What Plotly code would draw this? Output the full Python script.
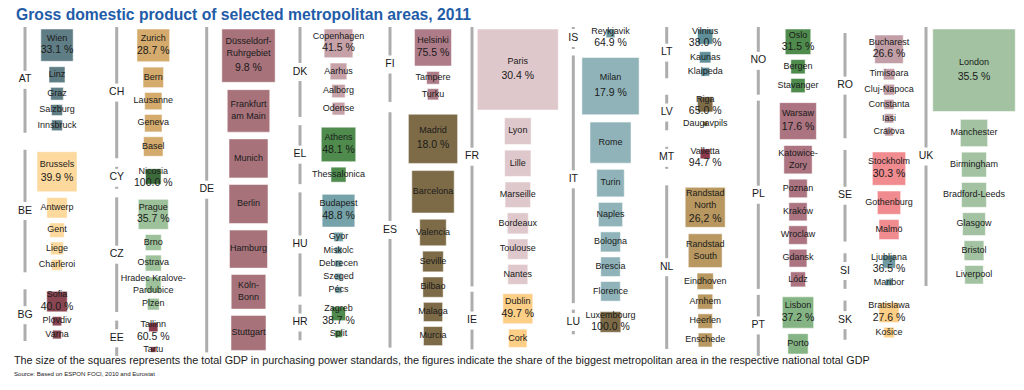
import math
import plotly.graph_objects as go

# ---------------- data ----------------
# GDP in bn PPS (estimated from the square areas)
COUNTRY_CODES = ["AT", "BE", "BG", "CH", "CY", "CZ", "EE", "DE", "DK", "EL", "HU", "HR",
                 "FI", "ES", "FR", "IE", "IS", "IT", "LU", "LT", "LV", "MT", "NL",
                 "NO", "PL", "PT", "RO", "SE", "SI", "SK", "UK"]
# share of the biggest metropolitan area in the national GDP (%)
TOP_SHARE = [33.1, 39.9, 40.0, 28.7, 100.0, 35.7, 60.5, 9.8, 41.5, 48.1, 48.8, 38.7,
             75.5, 18.0, 30.4, 49.7, 64.9, 17.9, 100.0, 38.0, 65.0, 94.7, 26.2,
             31.5, 17.6, 37.2, 26.6, 30.3, 36.5, 27.6, 35.5]
COMMA_DECIMAL = ["NL"]

CITIES_AT = ["Wien", "Linz", "Graz", "Salzburg", "Innsbruck"]
GDP_AT = [73.0, 17.9, 11.3, 8.5, 8.2]
CITIES_BE = ["Brussels", "Antwerp", "Gent", "Liege", "Charleroi"]
GDP_BE = [112.0, 29.1, 14.7, 11.5, 8.5]
CITIES_BG = ["Sofia", "Plovdiv", "Varna"]
GDP_BG = [29.4, 6.1, 5.3]
CITIES_CH = ["Zurich", "Bern", "Lausanne", "Geneva", "Basel"]
GDP_CH = [74.8, 29.4, 20.9, 21.4, 26.6]
CITIES_CY = ["Nicosia"]
GDP_CY = [16.8]
CITIES_CZ = ["Prague", "Brno", "Ostrava", "Hradec Kralove-\nPardubice", "Plzen"]
GDP_CZ = [63.0, 17.9, 17.9, 16.8, 9.6]
CITIES_EE = ["Tallinn", "Tartu"]
GDP_EE = [5.9, 2.1]
CITIES_DE = ["Düsseldorf-\nRuhrgebiet", "Frankfurt\nam Main", "Munich", "Berlin", "Hamburg",
             "Köln-\nBonn", "Stuttgart"]
GDP_DE = [198.9, 126.4, 106.5, 106.5, 101.1, 83.8, 85.8]
CITIES_DK = ["Copenhagen", "Aarhus", "Aalborg", "Odense"]
GDP_DK = [57.7, 19.5, 12.4, 11.3]
CITIES_EL = ["Athens", "Thessalonica"]
GDP_EL = [83.3, 15.8]
CITIES_HU = ["Budapest", "Gyor", "Miskolc", "Debrecen", "Szeged", "Pécs"]
GDP_HU = [74.8, 6.1, 3.4, 3.4, 3.4, 3.1]
CITIES_HR = ["Zagreb", "Split"]
GDP_HR = [13.7, 3.7]
CITIES_FI = ["Helsinki", "Tampere", "Turku"]
GDP_FI = [95.8, 11.3, 8.9]
CITIES_ES = ["Madrid", "Barcelona", "Valencia", "Seville", "Bilbao", "Malaga", "Murcia"]
GDP_ES = [169.5, 125.8, 49.2, 30.0, 28.8, 25.8, 25.3]
CITIES_FR = ["Paris", "Lyon", "Lille", "Marseille", "Bordeaux", "Toulouse", "Nantes"]
GDP_FR = [459.3, 49.9, 48.4, 45.5, 30.9, 28.8, 28.0]
CITIES_IE = ["Dublin", "Cork"]
GDP_IE = [63.0, 23.4]
CITIES_IS = ["Reykjavik"]
GDP_IS = [5.3]
CITIES_IT = ["Milan", "Rome", "Turin", "Naples", "Bologna", "Brescia", "Florence"]
GDP_IT = [229.0, 117.7, 52.9, 41.0, 28.0, 26.6, 26.9]
CITIES_LU = ["Luxembourg"]
GDP_LU = [30.0]
CITIES_LT = ["Vilnius", "Kaunas", "Klaipeda"]
GDP_LT = [16.2, 8.9, 5.3]
CITIES_LV = ["Riga", "Daugavpils"]
GDP_LV = [16.2, 1.4]
CITIES_MT = ["Valletta"]
GDP_MT = [7.0]
CITIES_NL = ["Randstad\nNorth", "Randstad\nSouth", "Eindhoven", "Arnhem", "Heerlen", "Enschede"]
GDP_NL = [112.0, 80.0, 18.6, 15.8, 14.7, 13.7]
CITIES_NO = ["Oslo", "Bergen", "Stavanger"]
GDP_NO = [45.5, 14.3, 14.1]
CITIES_PL = ["Warsaw", "Katowice-\nZory", "Poznan", "Kraków", "Wroclaw", "Gdansk", "Lódz"]
GDP_PL = [94.8, 56.1, 24.0, 23.2, 24.0, 22.2, 15.8]
CITIES_PT = ["Lisbon", "Porto"]
GDP_PT = [68.6, 28.8]
CITIES_RO = ["Bucharest", "Timisoara", "Cluj-Napoca", "Constanta", "Iasi", "Craiova"]
GDP_RO = [56.9, 8.9, 8.2, 7.0, 6.1, 5.1]
CITIES_SE = ["Stockholm", "Gothenburg", "Malmö"]
GDP_SE = [77.6, 38.0, 28.0]
CITIES_SI = ["Ljubljana", "Maribor"]
GDP_SI = [11.8, 3.1]
CITIES_SK = ["Bratislawa", "Košice"]
GDP_SK = [28.0, 7.7]
CITIES_UK = ["London", "Manchester", "Birmingham", "Bradford-Leeds", "Glasgow", "Bristol", "Liverpool"]
GDP_UK = [476.4, 51.8, 43.1, 43.1, 36.4, 27.4, 24.0]

TITLE = "Gross domestic product of selected metropolitan areas, 2011"
NOTE = ("The size of the squares represents the total GDP in purchasing power standards, "
        "the figures indicate the share of the biggest metropolitan area in the respective national total GDP")
SOURCE = "Source: Based on ESPON FOCI, 2010 and Eurostat"

CITIES = {
    "AT": (CITIES_AT, GDP_AT), "BE": (CITIES_BE, GDP_BE), "BG": (CITIES_BG, GDP_BG),
    "CH": (CITIES_CH, GDP_CH), "CY": (CITIES_CY, GDP_CY), "CZ": (CITIES_CZ, GDP_CZ),
    "EE": (CITIES_EE, GDP_EE), "DE": (CITIES_DE, GDP_DE), "DK": (CITIES_DK, GDP_DK),
    "EL": (CITIES_EL, GDP_EL), "HU": (CITIES_HU, GDP_HU), "HR": (CITIES_HR, GDP_HR),
    "FI": (CITIES_FI, GDP_FI), "ES": (CITIES_ES, GDP_ES), "FR": (CITIES_FR, GDP_FR),
    "IE": (CITIES_IE, GDP_IE), "IS": (CITIES_IS, GDP_IS), "IT": (CITIES_IT, GDP_IT),
    "LU": (CITIES_LU, GDP_LU), "LT": (CITIES_LT, GDP_LT), "LV": (CITIES_LV, GDP_LV),
    "MT": (CITIES_MT, GDP_MT), "NL": (CITIES_NL, GDP_NL), "NO": (CITIES_NO, GDP_NO),
    "PL": (CITIES_PL, GDP_PL), "PT": (CITIES_PT, GDP_PT), "RO": (CITIES_RO, GDP_RO),
    "SE": (CITIES_SE, GDP_SE), "SI": (CITIES_SI, GDP_SI), "SK": (CITIES_SK, GDP_SK),
    "UK": (CITIES_UK, GDP_UK),
}
SHARE = dict(zip(COUNTRY_CODES, TOP_SHARE))

# ---------------- styles / layout ----------------
COLORS = {
    "AT": "#5f7d84", "BE": "#fdd99d", "BG": "#8a4652", "CH": "#d4ab6c", "CY": "#3b6b3a",
    "CZ": "#9dc29b", "EE": "#8a3a4a", "DE": "#a7727a", "DK": "#c6a2a8", "EL": "#4f8b4d",
    "HU": "#76a3a9", "HR": "#4f8b4d", "FI": "#ad7c88", "ES": "#7d6b47", "FR": "#dfc8cb",
    "IE": "#fdcf86", "IS": "#6b959d", "IT": "#8fb3b8", "LU": "#7d6b47", "LT": "#5f8f99",
    "LV": "#7d6b47", "MT": "#8a3a4a", "NL": "#b89860", "NO": "#4f8b4d", "PL": "#ab7480",
    "PT": "#84b483", "RO": "#c29fa7", "SE": "#f08b8f", "SI": "#6f9aa2", "SK": "#fdcf86",
    "UK": "#a2c2a1",
}
COLUMN_GROUPS = [["AT", "BE", "BG"], ["CH", "CY", "CZ", "EE"], ["DE"], ["DK", "EL", "HU", "HR"],
                 ["FI", "ES"], ["FR", "IE"], ["IS", "IT", "LU"], ["LT", "LV", "MT", "NL"],
                 ["NO", "PL", "PT"], ["RO", "SE", "SI", "SK"], ["UK"]]
COLUMN_BAR_X = [25, 116.7, 206.7, 300, 390, 472, 573.3, 666.7, 758.3, 845, 926]
COLUMN_CENTER_X = [57, 153.3, 248.5, 338.5, 433, 517.8, 610.5, 705.2, 798, 889, 974]
COLUMN_COUNTRY_GAP = [21, 13, 0, 12.2, 14.3, 9.3, 10.5, 20.5, 10, 15.7, 0]
COLUMN_TOP = [29, 29, 29, 29, 29, 29, 29, 29, 29, 35, 29]
MAX_BOTTOM = 354
NAME_LINE = 9
TOP_LABEL_MIN = 18
GDP_PER_PX2 = 0.07
FONT = "Liberation Sans, Arial, Helvetica, sans-serif"
TXT = "#1a1a1a"


def side(g):
    return math.sqrt(g / GDP_PER_PX2)


def fmt_share(code, v):
    s = f"{v:.1f} %"
    return s.replace(".", ",") if code in COMMA_DECIMAL else s


fig = go.Figure()
sep_x, sep_y = [], []
lab_x, lab_y, lab_t = [], [], []
nm_x, nm_y, nm_t = [], [], []
pc_x, pc_y, pc_t = [], [], []

for ci, codes in enumerate(COLUMN_GROUPS):
    cx = COLUMN_CENTER_X[ci]
    bx = COLUMN_BAR_X[ci]
    entries = []
    for k, code in enumerate(codes):
        names, gdps = CITIES[code]
        prev = None
        for j, (nm, g) in enumerate(zip(names, gdps)):
            s = side(g)
            nl = nm.count("\n") + 1
            if j == 0:
                blk = max(s, TOP_LABEL_MIN + (nl - 1) * NAME_LINE)
                gap = COLUMN_COUNTRY_GAP[ci] if k > 0 else 0.0
            else:
                blk = max(s, NAME_LINE * nl)
                gap = 3.5 + 0.08 * (prev + blk) / 2
            entries.append(dict(code=code, j=j, name=nm, s=s, blk=blk, gap=gap, nl=nl))
            prev = blk
    total = sum(e["blk"] + e["gap"] for e in entries)
    gsum = sum(e["gap"] for e in entries)
    over = COLUMN_TOP[ci] + total - MAX_BOTTOM
    f = (gsum - over) / gsum if (over > 0 and gsum > 0) else 1.0
    y = COLUMN_TOP[ci]
    for e in entries:
        y += e["gap"] * f
        e["top"] = y
        y += e["blk"]

    for code in codes:
        es = [e for e in entries if e["code"] == code]
        bases, sides = [], []
        for e in es:
            s, blk, top = e["s"], e["blk"], e["top"]
            if e["j"] == 0 and s < blk:
                btop = top
            else:
                btop = top + (blk - s) / 2
            bases.append(btop)
            sides.append(s)
            c = top + blk / 2
            label = e["name"].replace("\n", "<br>")
            if e["j"] == 0:
                extra = min(1.5, max(0.0, (s - 30) * 0.08))
                nm_x.append(cx); nm_y.append(c - 6.5 - extra); nm_t.append(label)
                pc_x.append(cx); pc_y.append(c + 5.5 * e["nl"] + extra)
                pc_t.append(fmt_share(code, SHARE[code]))
            else:
                nm_x.append(cx); nm_y.append(c); nm_t.append(label)
        fig.add_trace(go.Bar(
            x=[cx] * len(es), y=sides, base=bases, width=sides,
            marker=dict(color=COLORS[code], line=dict(color="rgba(255,255,255,0.5)", width=1)),
            hoverinfo="skip", showlegend=False))
        gt = es[0]["top"] - 2
        gb = es[-1]["top"] + es[-1]["blk"] + 2
        mid = (gt + gb) / 2
        for a, b in ((gt, mid - 9), (mid + 9, gb)):
            if b > a:
                sep_x += [bx, bx, None]
                sep_y += [a, b, None]
        lab_x.append(bx); lab_y.append(mid); lab_t.append(code)

fig.add_trace(go.Scatter(x=sep_x, y=sep_y, mode="lines", line=dict(color="#adadad", width=3),
                         hoverinfo="skip", showlegend=False))
fig.add_trace(go.Scatter(x=lab_x, y=lab_y, text=lab_t, mode="text", textposition="middle center",
                         textfont=dict(family=FONT, size=10.5, color=TXT), cliponaxis=False,
                         hoverinfo="skip", showlegend=False))
fig.add_trace(go.Scatter(x=nm_x, y=nm_y, text=nm_t, mode="text", textposition="middle center",
                         textfont=dict(family=FONT, size=9, color=TXT), cliponaxis=False,
                         hoverinfo="skip", showlegend=False))
fig.add_trace(go.Scatter(x=pc_x, y=pc_y, text=pc_t, mode="text", textposition="middle center",
                         textfont=dict(family=FONT, size=10.5, color=TXT), cliponaxis=False,
                         hoverinfo="skip", showlegend=False))

fig.add_annotation(x=14, y=14, xref="x", yref="y", text=f"<b>{TITLE}</b>", showarrow=False,
                   xanchor="left", yanchor="middle", font=dict(family=FONT, size=15.7, color="#1f5ca8"))
fig.add_annotation(x=12, y=360, xref="x", yref="y", text=NOTE, showarrow=False,
                   xanchor="left", yanchor="middle", font=dict(family=FONT, size=10.8, color=TXT))
fig.add_annotation(x=12, y=373, xref="x", yref="y", text=SOURCE, showarrow=False,
                   xanchor="left", yanchor="middle", font=dict(family=FONT, size=6.1, color=TXT))

fig.update_layout(
    width=1024, height=390, margin=dict(l=0, r=0, t=0, b=0),
    paper_bgcolor="white", plot_bgcolor="white", barmode="overlay",
    xaxis=dict(range=[0, 1024], visible=False, fixedrange=True),
    yaxis=dict(range=[390, 0], visible=False, fixedrange=True),
    showlegend=False,
)
fig.write_html("out.html", config={"displayModeBar": False, "staticPlot": True},
               post_script="document.body.style.margin='0';document.body.style.overflow='hidden';")
